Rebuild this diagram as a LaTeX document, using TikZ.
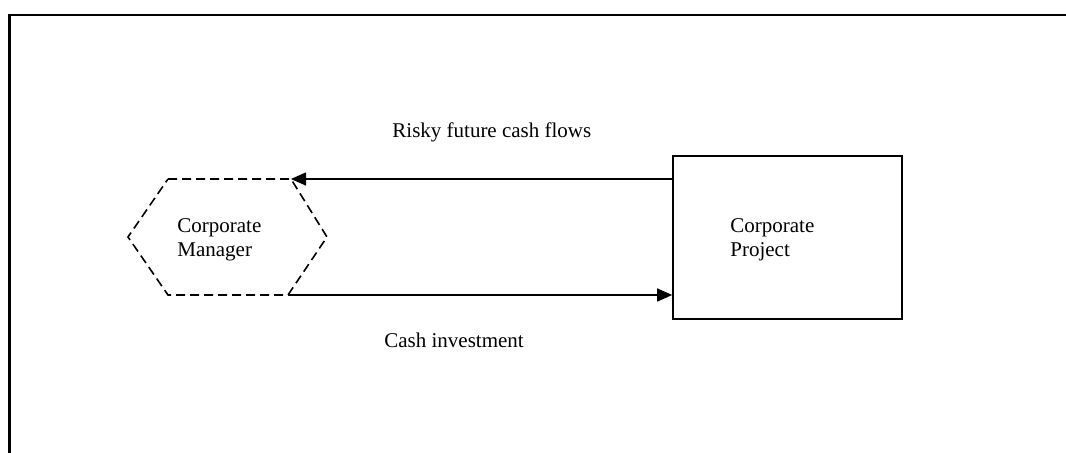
\documentclass[tikz,border=0pt]{standalone}
\usepackage{fontspec}
\setmainfont{Liberation Serif}
\usetikzlibrary{arrows.meta}

\begin{document}
\begin{tikzpicture}[x=0.5pt, y=-0.5pt,
  every node/.style={font=\fontsize{10.5}{12}\selectfont, inner sep=0},
  flow/.style={line width=0.8pt, -{Triangle[length=7.5pt,width=6.5pt]}},
  hexline/.style={line width=0.8pt, dash pattern=on 4.5pt off 2.5pt}]
\useasboundingbox (0,0) rectangle (1066,453);
\draw[line width=1.4pt] (9.5,453) -- (9.5,15) -- (1066,15);
% manager
\coordinate (h1) at (168,179);
\coordinate (h2) at (291,179);
\coordinate (h3) at (327,237);
\coordinate (h4) at (288,295);
\coordinate (h5) at (168,295);
\coordinate (h6) at (128,237);
\draw[hexline] (h1) -- (h2) -- (h3) -- (h4) -- (h5) -- (h6) -- cycle;
\node[anchor=west, align=left] (manager) at (177,240) {Corporate\\Manager};
% project
\node[draw, line width=0.8pt, minimum width=114.5pt, minimum height=81.5pt] (project) at (787.5,237.5) {};
\node[anchor=west, align=left] (projtext) at (730,240) {Corporate\\Project};
% flows
\draw[flow] (project.west |- h2) -- (h2);
\draw[flow] (h4) -- (project.west |- h4);
\node[anchor=base west] (risk) at (392,138) {Risky future cash flows};
\node[anchor=base west] (invest) at (384,348) {Cash investment};
\end{tikzpicture}
\end{document}
